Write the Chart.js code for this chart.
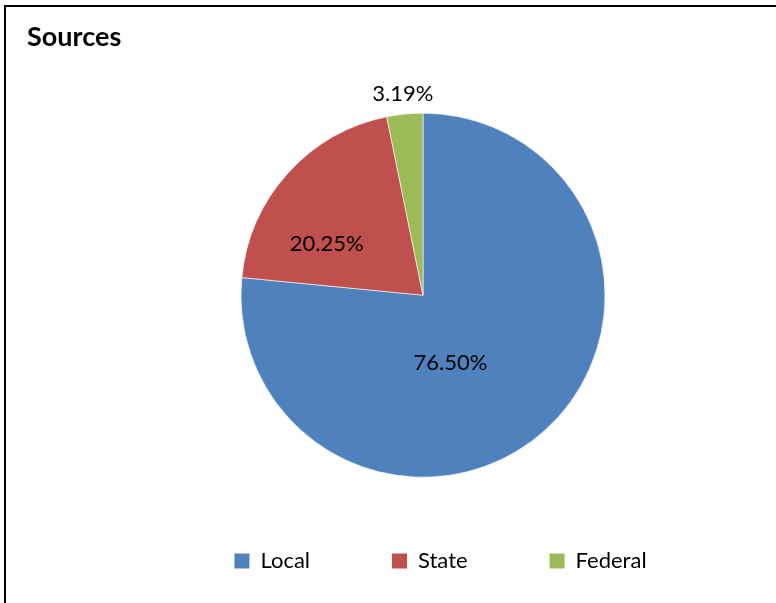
<!DOCTYPE html>
<html>
<head>
<meta charset="utf-8">
<title>Sources</title>
<script src="https://cdn.jsdelivr.net/npm/chart.js@4.4.1/dist/chart.umd.min.js"></script>
<style>
  html, body { margin: 0; padding: 0; background: #fff; }
  #wrap { position: relative; width: 776px; height: 603px; overflow: hidden; }
  #frame {
    position: absolute; left: 4px; top: 5px; width: 900px; height: 700px;
    border-left: 2px solid #000; border-top: 2px solid #000;
  }
  #pie { position: absolute; left: 0; top: 0; }
</style>
</head>
<body>
<div id="wrap">
  <div id="frame"></div>
  <canvas id="pie" width="882" height="603"></canvas>
</div>
<script>
const labels = ['Local', 'State', 'Federal'];
const shares = [76.50, 20.25, 3.19];
const colors = ['#4F81BD', '#C0504D', '#9BBB59'];

// where each percentage sits: fraction of the radius, and a turn (deg) off the slice middle
const labelSpots = [
  { r: 0.40, turn: 20 },
  { r: 0.60, turn: -14 },
  { r: 1.11, turn: 0 }
];

const pctLabels = {
  id: 'pctLabels',
  afterDatasetsDraw(chart) {
    const ctx = chart.ctx;
    const meta = chart.getDatasetMeta(0);
    ctx.save();
    ctx.font = '22px Lato';
    ctx.fillStyle = '#000';
    ctx.textAlign = 'center';
    ctx.textBaseline = 'middle';
    meta.data.forEach((arc, i) => {
      const p = arc.getProps(['x', 'y', 'startAngle', 'endAngle', 'outerRadius'], true);
      const spot = labelSpots[i];
      const a = (p.startAngle + p.endAngle) / 2 + spot.turn * Math.PI / 180;
      const r = p.outerRadius * spot.r;
      ctx.fillText(shares[i].toFixed(2) + '%', p.x + Math.cos(a) * r, p.y + Math.sin(a) * r);
    });
    ctx.restore();
  }
};

new Chart(document.getElementById('pie'), {
  type: 'pie',
  data: {
    labels: labels,
    datasets: [{
      data: shares,
      backgroundColor: colors,
      borderColor: 'rgba(255,255,255,0.6)',
      borderWidth: 1,
      radius: 182
    }]
  },
  options: {
    responsive: false,
    animation: false,
    devicePixelRatio: 1,
    layout: { padding: { left: 27, right: 28, top: 0, bottom: 21 } },
    plugins: {
      title: {
        display: true,
        text: 'Sources',
        align: 'start',
        color: '#000',
        font: { family: 'Lato', size: 27, weight: 'bold', lineHeight: 1.2 },
        padding: { top: 21, bottom: 69 }
      },
      // empty box on the right so the pie sits left of the legend centre
      subtitle: {
        display: true,
        position: 'right',
        text: '',
        padding: 0,
        font: { size: 35, lineHeight: 1 }
      },
      legend: {
        position: 'bottom',
        labels: {
          boxWidth: 15,
          boxHeight: 15,
          padding: 82,
          color: '#000',
          font: { family: 'Lato', size: 22 },
          generateLabels(chart) {
            return Chart.overrides.pie.plugins.legend.labels.generateLabels(chart)
              .map(item => Object.assign(item, { lineWidth: 0 }));
          }
        }
      },
      tooltip: { enabled: false }
    }
  },
  plugins: [pctLabels]
});
</script>
</body>
</html>
